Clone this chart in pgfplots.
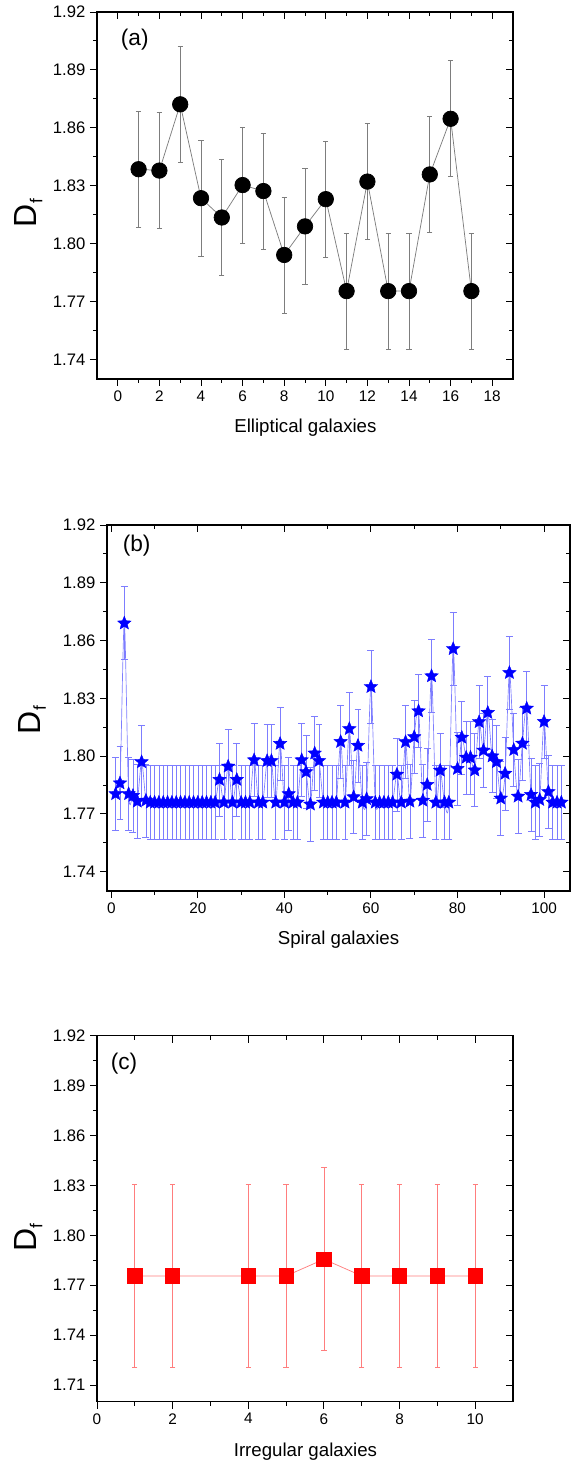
\documentclass[border=0pt]{standalone}
\usepackage{pgfplots}
\pgfplotsset{compat=1.18}
\usepackage{pgfplotstable}
\usepackage{fontspec}
\setmainfont{Liberation Sans}
\usetikzlibrary{plotmarks}
\definecolor{lblue}{RGB}{125,125,255}
\definecolor{lred}{RGB}{255,125,125}
\definecolor{egray}{RGB}{125,125,125}

\pgfdeclareplotmark{fstar}{%
  \pgfpathmoveto{\pgfpointpolar{90}{\pgfplotmarksize}}%
  \pgfpathlineto{\pgfpointpolar{126}{0.45*\pgfplotmarksize}}%
  \pgfpathlineto{\pgfpointpolar{162}{\pgfplotmarksize}}%
  \pgfpathlineto{\pgfpointpolar{198}{0.45*\pgfplotmarksize}}%
  \pgfpathlineto{\pgfpointpolar{234}{\pgfplotmarksize}}%
  \pgfpathlineto{\pgfpointpolar{270}{0.45*\pgfplotmarksize}}%
  \pgfpathlineto{\pgfpointpolar{306}{\pgfplotmarksize}}%
  \pgfpathlineto{\pgfpointpolar{342}{0.45*\pgfplotmarksize}}%
  \pgfpathlineto{\pgfpointpolar{18}{\pgfplotmarksize}}%
  \pgfpathlineto{\pgfpointpolar{54}{0.45*\pgfplotmarksize}}%
  \pgfpathclose
  \pgfusepathqfillstroke
}

\pgfplotstableread{
x y e
1 1.8386 0.030
2 1.8379 0.030
3 1.8722 0.030
4 1.8236 0.030
5 1.8136 0.030
6 1.8304 0.030
7 1.8273 0.030
8 1.7942 0.030
9 1.8090 0.030
10 1.8231 0.030
11 1.7755 0.030
12 1.8322 0.030
13 1.7755 0.030
14 1.7755 0.030
15 1.8359 0.030
16 1.8647 0.030
17 1.7755 0.030
}\ellip

\pgfplotstableread{
x y e
1 1.7804 0.019
2 1.7860 0.019
3 1.8690 0.019
4 1.7804 0.019
5 1.7795 0.019
6 1.7765 0.019
7 1.7970 0.019
8 1.7770 0.019
9 1.7760 0.019
10 1.7760 0.019
11 1.7760 0.019
12 1.7760 0.019
13 1.7760 0.019
14 1.7760 0.019
15 1.7760 0.019
16 1.7760 0.019
17 1.7760 0.019
18 1.7760 0.019
19 1.7760 0.019
20 1.7760 0.019
21 1.7760 0.019
22 1.7760 0.019
23 1.7760 0.019
24 1.7760 0.019
25 1.7878 0.019
26 1.7760 0.019
27 1.7947 0.019
28 1.7760 0.019
29 1.7878 0.019
30 1.7760 0.019
31 1.7760 0.019
32 1.7760 0.019
33 1.7980 0.019
34 1.7760 0.019
35 1.7760 0.019
36 1.7976 0.019
37 1.7976 0.019
38 1.7760 0.019
39 1.8065 0.019
40 1.7760 0.019
41 1.7804 0.019
42 1.7760 0.019
43 1.7760 0.019
44 1.7980 0.019
45 1.7918 0.019
46 1.7750 0.019
47 1.8015 0.019
48 1.7976 0.019
49 1.7760 0.019
50 1.7760 0.019
51 1.7760 0.019
52 1.7760 0.019
53 1.8075 0.019
54 1.7760 0.019
55 1.8142 0.019
56 1.7788 0.019
57 1.8055 0.019
58 1.7760 0.019
59 1.7778 0.019
60 1.8360 0.019
61 1.7760 0.019
62 1.7760 0.019
63 1.7760 0.019
64 1.7760 0.019
65 1.7760 0.019
66 1.7905 0.019
67 1.7760 0.019
68 1.8074 0.019
69 1.7765 0.019
70 1.8100 0.019
71 1.8234 0.019
72 1.7770 0.019
73 1.7852 0.019
74 1.8416 0.019
75 1.7760 0.019
76 1.7926 0.019
77 1.7760 0.019
78 1.7760 0.019
79 1.8557 0.019
80 1.7935 0.019
81 1.8097 0.019
82 1.7993 0.019
83 1.7993 0.019
84 1.7927 0.019
85 1.8178 0.019
86 1.8030 0.019
87 1.8226 0.019
88 1.8000 0.019
89 1.7970 0.019
90 1.7781 0.019
91 1.7910 0.019
92 1.8433 0.019
93 1.8033 0.019
94 1.7791 0.019
95 1.8066 0.019
96 1.8248 0.019
97 1.7800 0.019
98 1.7760 0.019
99 1.7774 0.019
100 1.8179 0.019
101 1.7815 0.019
102 1.7760 0.019
103 1.7760 0.019
104 1.7760 0.019
}\spiral

\pgfplotstableread{
x y e
1 1.7756 0.055
2 1.7756 0.055
4 1.7756 0.055
5 1.7756 0.055
6 1.7856 0.055
7 1.7756 0.055
8 1.7756 0.055
9 1.7756 0.055
10 1.7756 0.055
}\irreg

\pgfplotsset{
  base/.style={
    scale only axis,
    axis line style={line width=0.8pt},
    every tick/.style={line width=0.7pt, black},
    major tick length=5.25pt, minor tick length=3pt,
    /pgf/number format/assume math mode=true,
    xticklabel style={font=\fontsize{11.5}{13}\selectfont},
    yticklabel style={font=\fontsize{12.5}{14}\selectfont, /pgf/number format/fixed, /pgf/number format/fixed zerofill, /pgf/number format/precision=2},
  },
  main/.style={base,
    tick align=outside, xtick pos=left, ytick pos=left,
    xlabel style={font=\fontsize{14}{16}\selectfont, anchor=center},
    ylabel style={font=\fontsize{24}{26}\selectfont, anchor=center},
  },
  mirror/.style={base,
    tick align=inside, xtick pos=right, ytick pos=right,
    xticklabels={}, yticklabels={},
  },
  pa/.style={width=312pt, height=275.25pt, at={(72.75pt,813pt)}, anchor=south west,
    xmin=-1, xmax=19, ymin=1.73, ymax=1.92,
    xtick={0,2,...,18}, minor xtick={1,3,...,17},
    ytick={1.74,1.77,1.80,1.83,1.86,1.89,1.92},
    minor ytick={1.755,1.785,1.815,1.845,1.875,1.905}},
  pb/.style={width=347.25pt, height=274.5pt, at={(80.25pt,429pt)}, anchor=south west,
    xmin=-1, xmax=106, ymin=1.73, ymax=1.92,
    xtick={0,20,...,100}, minor xtick={10,30,50,70,90},
    ytick={1.74,1.77,1.80,1.83,1.86,1.89,1.92},
    minor ytick={1.755,1.785,1.815,1.845,1.875,1.905}},
  pc/.style={width=312pt, height=274.5pt, at={(72.75pt,46pt)}, anchor=south west,
    xmin=0, xmax=11, ymin=1.70, ymax=1.92,
    xtick={0,2,...,10}, minor xtick={1,3,...,9},
    ytick={1.71,1.74,1.77,1.80,1.83,1.86,1.89,1.92},
    minor ytick={1.725,1.755,1.785,1.815,1.845,1.875,1.905}},
}

\newcommand{\Df}{D\raisebox{-0.35ex}{\fontsize{13}{14}\selectfont f}}

\begin{document}
\begin{tikzpicture}
\useasboundingbox (0,0) rectangle (434.25pt,1097.25pt);

% ---------- (a) ----------
\begin{axis}[pa, mirror]
\end{axis}
\begin{axis}[pa, main,
  xlabel={Elliptical galaxies},
  xlabel style={at={(axis description cs:0.501,-0.1335)}},
  ylabel={\Df},
  ylabel style={at={(axis description cs:-0.165,0.452)}},
]
\addplot[egray, line width=0.55pt, mark=*, mark size=5.8pt,
  mark options={black, fill=black, solid},
  error bars/.cd, y dir=both, y explicit,
  error bar style={egray, line width=0.55pt},
  error mark options={rotate=90, egray, mark size=2pt, line width=0.55pt}]
  table[x=x, y=y, y error=e] {\ellip};
\node[anchor=west, font=\fontsize{17}{20}\selectfont] at (axis description cs:0.046,0.924) {(a)};
\end{axis}

% ---------- (b) ----------
\begin{axis}[pb, mirror]
\end{axis}
\begin{axis}[pb, main,
  xlabel={Spiral galaxies},
  xlabel style={at={(axis description cs:0.5,-0.134)}},
  ylabel={\Df},
  ylabel style={at={(axis description cs:-0.162,0.467)}},
]
\addplot[lblue, line width=0.5pt, smooth, mark=fstar, mark size=5.3pt,
  mark options={blue, fill=blue, solid, line width=0.3pt},
  error bars/.cd, y dir=both, y explicit,
  error bar style={lblue, line width=0.5pt},
  error mark options={rotate=90, lblue, mark size=2.6pt, line width=0.5pt}]
  table[x=x, y=y, y error=e] {\spiral};
\node[anchor=west, font=\fontsize{17}{20}\selectfont] at (axis description cs:0.024,0.943) {(b)};
\end{axis}

% ---------- (c) ----------
\begin{axis}[pc, mirror]
\end{axis}
\begin{axis}[pc, main,
  xlabel={Irregular galaxies},
  xlabel style={at={(axis description cs:0.501,-0.136)}},
  ylabel={\Df},
  ylabel style={at={(axis description cs:-0.165,0.448)}},
]
\addplot[lred, line width=0.55pt, mark=square*, mark size=5.4pt,
  mark options={red, fill=red, solid},
  error bars/.cd, y dir=both, y explicit,
  error bar style={lred, line width=0.55pt},
  error mark options={rotate=90, lred, mark size=2pt, line width=0.55pt}]
  table[x=x, y=y, y error=e] {\irreg};
\node[anchor=west, font=\fontsize{17}{20}\selectfont] at (axis description cs:0.022,0.923) {(c)};
\end{axis}
\end{tikzpicture}
\end{document}
